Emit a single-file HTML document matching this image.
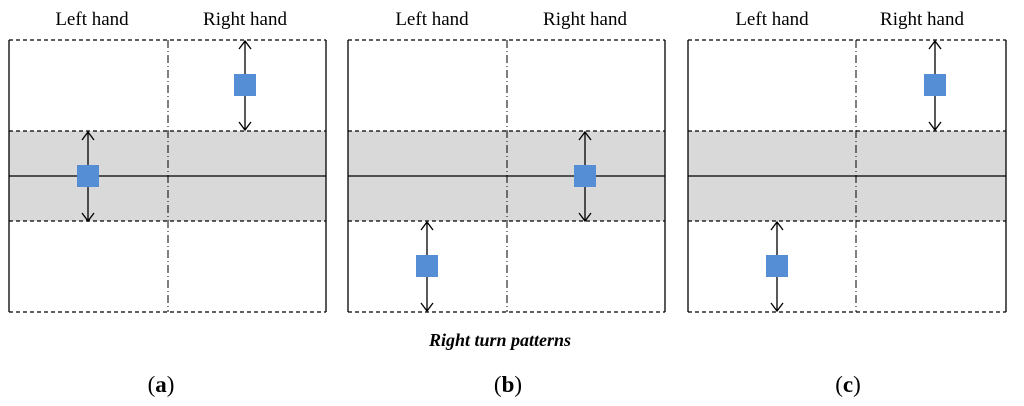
<!DOCTYPE html>
<html><head><meta charset="utf-8"><style>
html,body{margin:0;padding:0;background:#fff;width:1024px;height:406px;overflow:hidden}
svg{display:block}
text{font-family:"Liberation Serif",serif;fill:#000}
</style></head><body>
<svg width="1024" height="406" viewBox="0 0 1024 406" xmlns="http://www.w3.org/2000/svg">
<defs>
<g id="arr">
</g>
</defs>
<g stroke="#000" stroke-width="1.3" fill="none">
<!-- panel template drawn per panel -->
</g>
<!-- Panel a -->
<g>
<rect x="9" y="131" width="317" height="90" fill="#d9d9d9"/>
<line x1="9" y1="176" x2="326" y2="176" stroke="#000" stroke-width="1.3"/>
<g stroke="#000" stroke-width="1.2" stroke-dasharray="4,3">
<line x1="9" y1="40" x2="326" y2="40"/><line x1="9" y1="131" x2="326" y2="131"/>
<line x1="9" y1="221" x2="326" y2="221"/><line x1="9" y1="312" x2="326" y2="312"/>
</g>
<line x1="9" y1="40" x2="9" y2="312" stroke="#000" stroke-width="1.3"/>
<line x1="326" y1="40" x2="326" y2="312" stroke="#000" stroke-width="1.3"/>
<line x1="168" y1="40" x2="168" y2="312" stroke="#000" stroke-width="1" stroke-dasharray="8,3,1,3"/>
</g>
<!-- Panel b -->
<g>
<rect x="348" y="131" width="317" height="90" fill="#d9d9d9"/>
<line x1="348" y1="176" x2="665" y2="176" stroke="#000" stroke-width="1.3"/>
<g stroke="#000" stroke-width="1.2" stroke-dasharray="4,3">
<line x1="348" y1="40" x2="665" y2="40"/><line x1="348" y1="131" x2="665" y2="131"/>
<line x1="348" y1="221" x2="665" y2="221"/><line x1="348" y1="312" x2="665" y2="312"/>
</g>
<line x1="348" y1="40" x2="348" y2="312" stroke="#000" stroke-width="1.3"/>
<line x1="665" y1="40" x2="665" y2="312" stroke="#000" stroke-width="1.3"/>
<line x1="507" y1="40" x2="507" y2="312" stroke="#000" stroke-width="1" stroke-dasharray="8,3,1,3"/>
</g>
<!-- Panel c -->
<g>
<rect x="688" y="131" width="318" height="90" fill="#d9d9d9"/>
<line x1="688" y1="176" x2="1006" y2="176" stroke="#000" stroke-width="1.3"/>
<g stroke="#000" stroke-width="1.2" stroke-dasharray="4,3">
<line x1="688" y1="40" x2="1006" y2="40"/><line x1="688" y1="131" x2="1006" y2="131"/>
<line x1="688" y1="221" x2="1006" y2="221"/><line x1="688" y1="312" x2="1006" y2="312"/>
</g>
<line x1="688" y1="40" x2="688" y2="312" stroke="#000" stroke-width="1.3"/>
<line x1="1006" y1="40" x2="1006" y2="312" stroke="#000" stroke-width="1.3"/>
<line x1="856" y1="40" x2="856" y2="312" stroke="#000" stroke-width="1" stroke-dasharray="8,3,1,3"/>
</g>
<!-- arrows -->
<g stroke="#000" stroke-width="1.3" fill="none">
<path d="M245 41V130M239 49L245 41L251 49M239 122L245 130L251 122"/>
<path d="M88 132V221M82 140L88 132L94 140M82 213L88 221L94 213"/>
<path d="M585 132V221M579 140L585 132L591 140M579 213L585 221L591 213"/>
<path d="M427 222V311M421 230L427 222L433 230M421 303L427 311L433 303"/>
<path d="M935 41V130M929 49L935 41L941 49M929 122L935 130L941 122"/>
<path d="M777 222V311M771 230L777 222L783 230M771 303L777 311L783 303"/>
</g>
<g fill="#558ed5">
<rect x="234" y="74" width="22" height="22"/>
<rect x="77" y="165" width="22" height="22"/>
<rect x="574" y="165" width="22" height="22"/>
<rect x="416" y="255" width="22" height="22"/>
<rect x="924" y="74" width="22" height="22"/>
<rect x="766" y="255" width="22" height="22"/>
</g>
<g font-size="19" text-anchor="middle">
<text x="92" y="25">Left hand</text><text x="245" y="25">Right hand</text>
<text x="432" y="25">Left hand</text><text x="585" y="25">Right hand</text>
<text x="772" y="25">Left hand</text><text x="922" y="25">Right hand</text>
</g>
<text x="500" y="346" font-size="18" font-weight="bold" font-style="italic" text-anchor="middle">Right turn patterns</text>
<g font-size="23" text-anchor="middle">
<text x="161" y="392">(<tspan font-weight="bold">a</tspan>)</text>
<text x="508" y="392">(<tspan font-weight="bold">b</tspan>)</text>
<text x="848" y="392">(<tspan font-weight="bold">c</tspan>)</text>
</g>
</svg>
</body></html>
